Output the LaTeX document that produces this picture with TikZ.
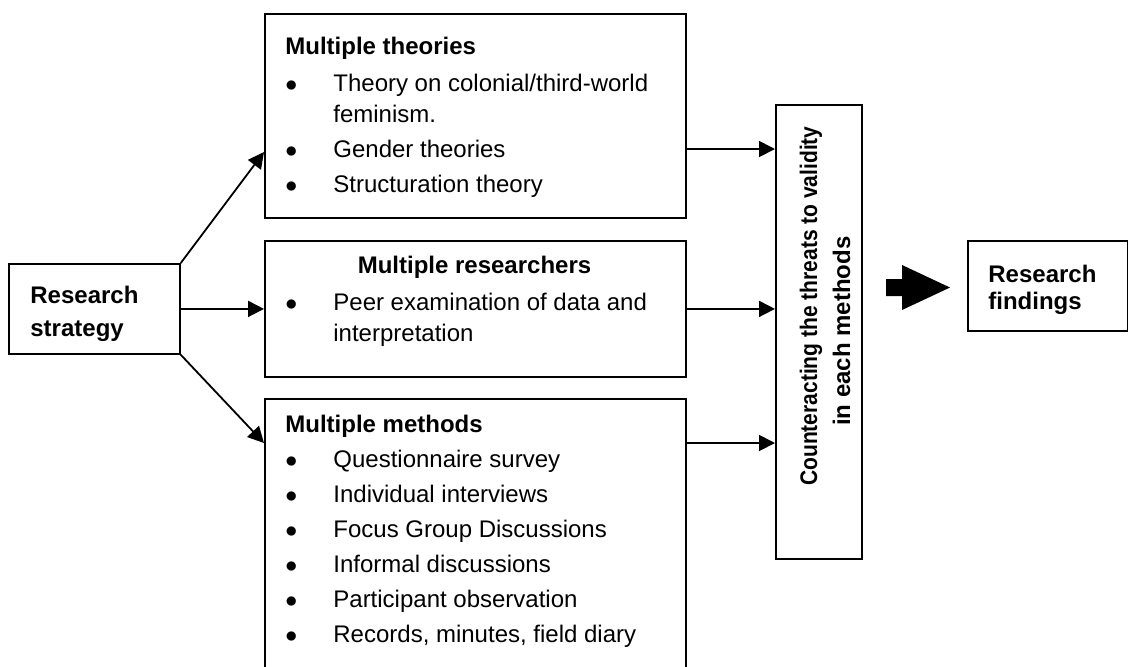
\documentclass[tikz,border=0pt]{standalone}
\usepackage{graphicx}
\usepackage{fontspec}
\setmainfont{Liberation Sans}
\usetikzlibrary{arrows.meta,positioning}

% bullet and hanging indent for the item lists
\newcommand{\itm}{\makebox[24pt][l]{$\bullet$}}
\newcommand{\cont}{\hspace*{24pt}}

\begin{document}
\begin{tikzpicture}[x=0.5pt,y=-0.5pt,>={Triangle[length=8pt,width=8pt]},
    box/.style={draw,line width=0.9pt,anchor=north west,inner sep=0pt},
    list/.style={anchor=north west,inner sep=0pt,align=left,
        font=\fontsize{12pt}{15.5pt}\selectfont},
    head/.style={inner sep=0pt,font=\fontsize{12pt}{15.5pt}\selectfont\bfseries},
    link/.style={->,line width=0.9pt}]

    \useasboundingbox (0,0) rectangle (1128,666);
    \clip (0,0) rectangle (1128,666);

    % boxes
    \node[box,minimum width=85.5pt,minimum height=45pt] (strategy) at (8,263) {};
    \node[box,minimum width=210.5pt,minimum height=102pt] (theories) at (264,13) {};
    \node[box,minimum width=210.5pt,minimum height=68pt] (researchers) at (264,240) {};
    \node[box,minimum width=210.5pt,minimum height=160pt] (methods) at (264,398) {};
    \node[box,minimum width=43pt,minimum height=227pt] (validity) at (775,104) {};
    \node[box,minimum width=80pt,minimum height=45pt] (findings) at (967,240) {};

    % texts
    \node[list,font=\fontsize{12pt}{16.5pt}\selectfont\bfseries] (strategy-txt) at (30,285.5)
        {Research\\strategy};

    \node[list] (theories-txt) at (285,36.5) {%
        \textbf{Multiple theories}\\[3pt]
        \itm Theory on colonial/third-world\\
        \cont feminism.\\[2pt]
        \itm Gender theories\\[2pt]
        \itm Structuration theory};

    \node[head,anchor=base] (researchers-head) at (474.5,273) {Multiple researchers};
    \node[list] (researchers-txt) at (285,292.5) {%
        \itm Peer examination of data and\\
        \cont interpretation};

    \node[list] (methods-txt) at (285,414.5) {%
        \textbf{Multiple methods}\\[2pt]
        \itm Questionnaire survey\\[2pt]
        \itm Individual interviews\\[2pt]
        \itm Focus Group Discussions\\[2pt]
        \itm Informal discussions\\[2pt]
        \itm Participant observation\\[2pt]
        \itm Records, minutes, field diary};

    \node[head,anchor=base,rotate=90] (validity-a) at (817,306)
        {\scalebox{0.875}[1]{Counteracting the threats to validity}};
    \node[head,anchor=base,rotate=90] (validity-b) at (850,331)
        {in each methods};

    \node[list,font=\fontsize{12pt}{13.5pt}\selectfont\bfseries] (findings-txt) at (988,264.5)
        {Research\\findings};

    % connectors
    \draw[link] (strategy.north east) -- (theories.west |- 0,152);
    \draw[link] (strategy.east) -- (researchers.west);
    \draw[link] (strategy.south east) -- (methods.west |- 0,443);

    \draw[link] (theories.east |- 0,149) -- (validity.west |- 0,149);
    \draw[link] (researchers.east) -- (validity.west |- researchers.east);
    \draw[link] (methods.east |- 0,443) -- (validity.west |- 0,443);

    % block arrow to the findings
    \fill (886,279) -- (902,279) -- (902,265) -- (950,287.5) -- (902,310)
        -- (902,296) -- (886,296) -- cycle;
\end{tikzpicture}
\end{document}
